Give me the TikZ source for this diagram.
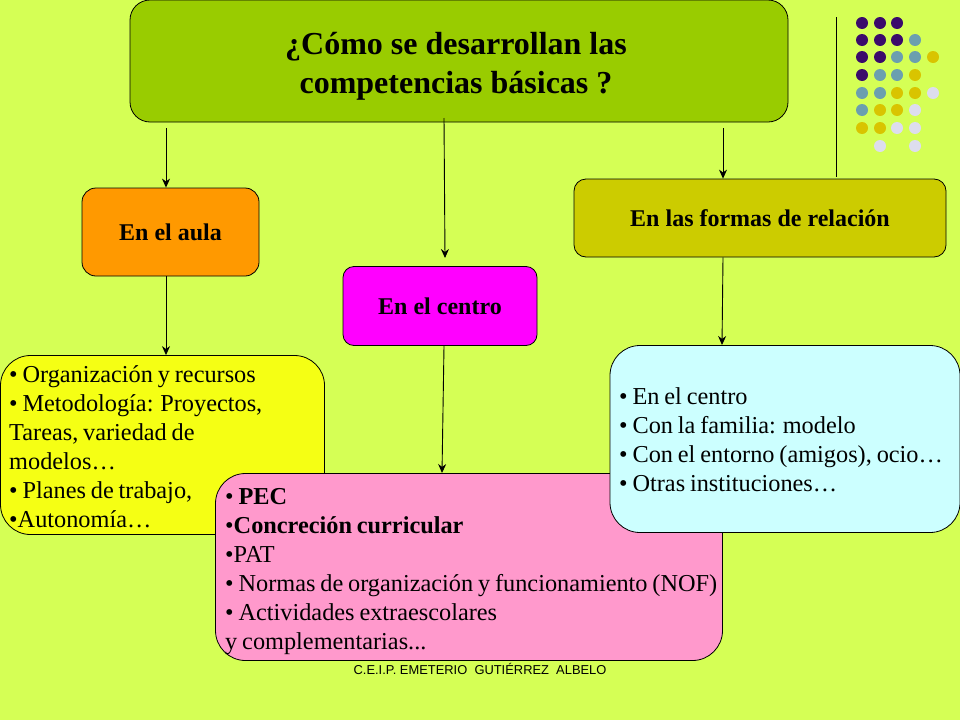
\documentclass[tikz,border=0pt]{standalone}
\usepackage{fontspec}
\setmainfont{Liberation Serif}
\newfontfamily\piefont{Liberation Sans}
\newfontfamily\listafont[WordSpace=0.8]{Liberation Serif}
\usepackage{xcolor}
\usetikzlibrary{positioning,arrows.meta}
\definecolor{fondo}{HTML}{D5FF55}
\definecolor{morado}{HTML}{3B0A6B}
\definecolor{verdoso}{HTML}{6B9FAF}
\definecolor{dorado}{HTML}{D9C400}
\definecolor{lila}{HTML}{DDDDEE}
\definecolor{oliva}{HTML}{99CC00}
\definecolor{naranja}{HTML}{FF9900}
\definecolor{fucsia}{HTML}{FF00FF}
\definecolor{mostaza}{HTML}{CCCC00}
\definecolor{amarillo}{HTML}{F5FF14}
\definecolor{rosa}{HTML}{FF99CC}
\definecolor{celeste}{HTML}{CCFFFF}
\tikzset{
  caja/.style={draw=black,line width=.8pt,align=center,inner sep=0pt,font=\fontsize{24}{26}\selectfont\bfseries},
  lista/.style={draw=black,line width=.8pt,inner sep=0pt,rounded corners=30pt},
  texto/.style={anchor=west,align=left,inner sep=0pt,font=\listafont\fontsize{24.3}{29}\selectfont},
  flecha/.style={-{Stealth[length=9pt,width=8pt]},line width=.9pt}
}

\begin{document}
\begin{tikzpicture}
  [x=1pt,y=-1pt]
  \fill[fondo] (0,0) rectangle (960,720);
  \useasboundingbox (0,0) rectangle (960,720);

  \node[caja,fill=oliva,rounded corners=20pt,minimum width=658pt,minimum height=122pt] (titulo) at (459,61) {};
  \node[font=\fontsize{32}{39}\selectfont\bfseries,align=center,inner sep=0pt] (pregunta) at (456,66) {¿Cómo se desarrollan las\\ competencias básicas ?};
  \node[caja,fill=naranja,rounded corners=14pt,minimum width=177pt,minimum height=88pt] (aula) at (170.5,232) {En el aula};
  \node[caja,fill=fucsia,rounded corners=11pt,minimum width=194pt,minimum height=79pt] (centro) at (440,306) {En el centro};
  \node[caja,fill=mostaza,rounded corners=12pt,minimum width=372pt,minimum height=78pt] (relacion) at (760,218) {En las formas de relación};

  \node[lista,fill=amarillo,minimum height=179pt,minimum width=324pt] (recursos) at (162.5,445) {};
  \node[texto] (recursostxt) at (9,446.5) {• Organización y recursos\\ • Metodología: Proyectos,\\ Tareas, variedad de\\ modelos…\\ • Planes de trabajo,\\ •Autonomía…};
  \node[lista,fill=rosa,minimum height=187pt,minimum width=507pt] (pec) at (469,567) {};
  \node[texto] (pectxt) at (225,572) {• \textbf{PEC}\\ •\textbf{Concreción curricular}\\ •PAT\\ • Normas de organización y funcionamiento (NOF)\\ • Actividades extraescolares\\ y complementarias...};
  \node[lista,fill=celeste,minimum height=187pt,minimum width=350pt] (familia) at (785,439) {};
  \node[texto] (familiatxt) at (619,439.5) {• En el centro\\ • Con la familia: modelo\\ • Con el entorno (amigos), ocio…\\ • Otras instituciones…};

  \coordinate (c1) at (166,128);
  \coordinate (c2) at (444,118);
  \coordinate (c3) at (723,128);
  \coordinate (c4) at (445,258);
  \draw[flecha] (c1) -- (c1 |- aula.north);
  \draw[flecha] (c2) -- (c4);
  \draw[flecha] (c3) -- (c3 |- relacion.north);
  \draw[flecha] (c1 |- aula.south) -- (c1 |- recursos.north);
  \draw[flecha] (c2 |- centro.south) -- (442,473);
  \draw[flecha] (c3 |- relacion.south) -- (722,345);

  \draw[line width=.8pt] (836,17) -- (836,177);
  % puntos de colores
  \foreach \col/\fila/\tono in {862/23/morado,880/23/morado,897/23/morado,
    862/40/morado,880/40/morado,897/40/morado,915/40/verdoso,
    862/57/morado,880/57/morado,897/57/verdoso,915/57/verdoso,933/57/dorado,
    862/75/morado,880/75/verdoso,897/75/verdoso,915/75/dorado,
    862/93/verdoso,880/93/verdoso,897/93/dorado,915/93/dorado,933/93/lila,
    862/110/verdoso,880/110/dorado,897/110/dorado,915/110/lila,
    862/128/dorado,880/128/dorado,897/128/lila,915/128/lila,
    880/146/lila,915/146/lila}
    \fill[\tono] (\col,\fila) circle (6pt);

  \node[font=\piefont\fontsize{12.9}{14}\selectfont,inner sep=0pt] (pie) at (480,669) {C.E.I.P. EMETERIO\ \ GUTIÉRREZ\ \ ALBELO};
\end{tikzpicture}
\end{document}
